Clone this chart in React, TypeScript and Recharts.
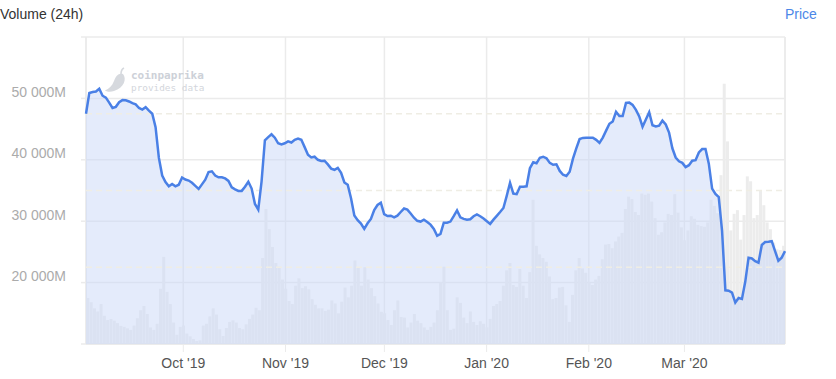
import {
  ComposedChart,
  Bar,
  Area,
  Line,
  XAxis,
  YAxis,
  CartesianGrid,
  ReferenceLine,
} from "recharts";

// daily closes, Sep 2 2019 .. Mar 31 2020 (USD)
const price = [
  10000, 10540, 10565, 10580, 10650, 10470, 10420, 10290, 10150, 10180,
  10300, 10355, 10350, 10320, 10275, 10245, 10150, 10110, 10170, 10080,
  10000, 9650, 8850, 8390, 8220, 8110, 8170, 8110, 8150, 8340,
  8285, 8260, 8200, 8120, 8040, 8160, 8280, 8480, 8500, 8390,
  8344, 8344, 8315, 8250, 8080, 8030, 7990, 7990, 8100, 8229,
  8050, 7650, 7500, 8240, 9310, 9390, 9464, 9377, 9230, 9200,
  9230, 9280, 9250, 9320, 9350, 9320, 9130, 8930, 8860, 8880,
  8800, 8770, 8777, 8680, 8570, 8540, 8590, 8460, 8210, 8150,
  7800, 7350, 7225, 7140, 7000, 7145, 7260, 7492, 7622, 7682,
  7385, 7335, 7343, 7300, 7345, 7440, 7530, 7500, 7400, 7290,
  7210, 7190, 7240, 7180, 7110, 7000, 6820, 6870, 7161, 7161,
  7190, 7330, 7480, 7300, 7260, 7240, 7250, 7330, 7375, 7330,
  7270, 7200, 7130, 7240, 7340, 7440, 7545, 7860, 8200, 7920,
  7905, 8099, 8099, 8110, 8580, 8734, 8709, 8855, 8880, 8840,
  8720, 8670, 8683, 8510, 8410, 8380, 8490, 8830, 9100, 9342,
  9370, 9377, 9377, 9377, 9320, 9240, 9380, 9560, 9740, 9800,
  10050, 9942, 9942, 10280, 10290, 10230, 10100, 9930, 9662, 9850,
  10040, 9700, 9670, 9688, 9820, 9720, 9510, 9100, 8860, 8760,
  8720, 8610, 8660, 8775, 8790, 8990, 9080, 9080, 8700, 8050,
  7910, 7830, 6950, 5400, 5390, 5340, 5080, 5200, 5175, 5620,
  6250, 6230, 6160, 6120, 6580, 6658, 6666, 6680, 6420, 6170,
  6250, 6420,
];

// 24h volume, millions USD
const volume = [
  17500, 16800, 15800, 15300, 16500, 14600, 13900, 14060, 13800, 13400,
  12950, 12800, 12550, 12300, 13000, 14200, 15500, 16200, 14900, 12700,
  12300, 13300, 19000, 24200, 18500, 16500, 13500, 11500, 12800, 13000,
  11700, 11250, 10800, 10500, 10600, 13000, 13300, 14500, 15800, 14800,
  12400, 11300, 12600, 13600, 13850, 13500, 12600, 12400, 13200, 14100,
  14800, 15900, 15500, 24000, 32000, 28700, 25800, 23200, 22600, 20500,
  19000, 17000, 16500, 19500, 20700, 19100, 19400, 18900, 17300, 16400,
  15800, 15800, 15400, 15600, 17100, 16600, 15000, 16900, 19200, 17600,
  19500, 23600, 22500, 19500, 22500, 20500, 19100, 17800, 16600, 15250,
  15000, 13900, 13100, 15500, 17100, 14400, 14300, 12700, 13500, 14900,
  13800, 13400, 12700, 12300, 12800, 13500, 15500, 20000, 22600, 15500,
  12300, 12500, 17600, 16700, 14300, 13400, 15300, 13600, 13100, 13700,
  13300, 12700, 14100, 16200, 16500, 17000, 19500, 22000, 23200, 19600,
  19300, 22200, 19500, 17500, 21700, 33500, 26000, 24600, 24000, 23400,
  21000, 17300, 17500, 19200, 19300, 16300, 13600, 18000, 22000, 24000,
  22300, 21600, 20000, 19600, 20500, 21100, 23800, 26200, 26300, 25600,
  26700, 27500, 28100, 32000, 34000, 33600, 31500, 31000, 34500, 34300,
  34500, 33200, 30500, 27800, 28200, 29800, 31200, 31000, 34400, 31400,
  29000, 26900, 28500, 30800, 30400, 29400, 29200, 29100, 29800, 33500,
  32500, 31300, 37500, 52400, 43000, 28500, 31200, 31800, 27000, 31000,
  37300, 36500, 30500, 31000, 35000, 32600, 29800, 28700, 26500, 25400,
  25300, 26000,
];

const monthTicks = ["2019-10-01", "2019-11-01", "2019-12-01", "2020-01-01", "2020-02-01", "2020-03-01"];
const monthLabels = ["Oct '19", "Nov '19", "Dec '19", "Jan '20", "Feb '20", "Mar '20"];
const volumeTicks = [10000, 20000, 30000, 40000, 50000, 60000];
const priceTicks = [6000, 8000, 10000];

const FONT = "'Liberation Sans', Arial, sans-serif";
const W = 836;
const H = 379;
const PLOT = { top: 37, left: 86, right: 51, bottom: 35 };

const dayKey = (i: number) => new Date(Date.UTC(2019, 8, 2 + i)).toISOString().slice(0, 10);

const data = price.map((p, i) => ({ date: dayKey(i), price: p, volume: volume[i] }));

const fmtVolume = (v: number) => String(v).replace(/\B(?=(\d{3})+(?!\d))/g, " ") + "M";

function VolumeTick(props: any) {
  const { x, y, payload } = props;
  if (payload.value <= 10000 || payload.value >= 60000) return <g />;
  return (
    <text x={x} y={y - 6.5} dy="0.355em" textAnchor="end" fill="#ababab" fontSize={14} fontFamily={FONT}>
      {fmtVolume(payload.value)}
    </text>
  );
}

function PriceTick(props: any) {
  const { x, y, payload } = props;
  return (
    <text x={x} y={y - 6.5} dy="0.355em" textAnchor="start" fill="#ababab" fontSize={14} fontFamily={FONT}>
      {payload.value / 1000}k
    </text>
  );
}

function MonthTick(props: any) {
  const { x, y, payload } = props;
  const label = monthLabels[monthTicks.indexOf(payload.value)];
  return (
    <text x={x} y={y} dy="0.71em" textAnchor="middle" fill="#555" fontSize={14} fontFamily={FONT}>
      {label}
    </text>
  );
}

const layer = { position: "absolute" as const, left: 0, top: 0 };

export default function App() {
  return (
    <div style={{ position: "absolute", left: 0, top: 0, width: W, height: H, background: "#fff", fontFamily: FONT }}>
      <div style={{ position: "absolute", left: 0, top: 6, fontSize: 14, lineHeight: "16px", color: "#333" }}>
        Volume (24h)
      </div>
      <div style={{ position: "absolute", left: 785, top: 6, fontSize: 14, lineHeight: "16px", color: "#4c87e8" }}>
        Price
      </div>

      {/* bottom layer: grid, axes, volume columns */}
      <div style={layer}>
        <ComposedChart
          width={W}
          height={H}
          data={data}
          margin={{ top: PLOT.top, right: 0, bottom: 0, left: 0 }}
          barCategoryGap="12%"
        >
          <CartesianGrid yAxisId="vol" stroke="#ebebeb" strokeWidth={1.5} />
          <XAxis
            dataKey="date"
            ticks={monthTicks}
            tick={<MonthTick />}
            height={PLOT.bottom}
            tickSize={8}
            tickMargin={6}
            interval={0}
            axisLine={{ stroke: "#ebebeb", strokeWidth: 2 }}
            tickLine={{ stroke: "#ebebeb" }}
          />
          <YAxis
            yAxisId="vol"
            orientation="left"
            width={PLOT.left}
            domain={[10000, 60000]}
            ticks={volumeTicks}
            interval={0}
            tick={<VolumeTick />}
            tickSize={5}
            tickMargin={15}
            axisLine={{ stroke: "#ebebeb", strokeWidth: 1.5 }}
            tickLine={{ stroke: "#ebebeb", strokeWidth: 1.5 }}
          />
          <YAxis
            yAxisId="price"
            orientation="right"
            width={PLOT.right}
            domain={[4000, 12000]}
            ticks={priceTicks}
            interval={0}
            tick={<PriceTick />}
            tickSize={5}
            tickMargin={14}
            axisLine={{ stroke: "#ebebeb", strokeWidth: 1.5 }}
            tickLine={{ stroke: "#ebebeb", strokeDasharray: "3 2" }}
          />
          <Bar yAxisId="vol" dataKey="volume" fill="#ececec" isAnimationActive={false} />
        </ComposedChart>
      </div>

      {/* watermark */}
      <svg width={W} height={H} style={layer}>
        <path
          d="M123 74 C127 79 124 88 114 91 C110 92.5 106 91.5 105 90.5 C109 89 112 86 114 81 C116 76 118 73 123 74 Z"
          fill="#d6d9de"
        />
        <path d="M121 74 C121 71 122 69 124 68" stroke="#d6d9de" strokeWidth={1.6} fill="none" />
        <text x={131} y={79} fontFamily="'DejaVu Sans Mono', monospace" fontWeight="bold" fontSize={11} fill="#cdd1d8">
          coinpaprika
        </text>
        <text x={131} y={90.5} fontFamily="'DejaVu Sans Mono', monospace" fontSize={9.4} fill="#d3d6dc">
          provides data
        </text>
      </svg>

      {/* top layer: price area, dashed price grid, price line */}
      <div style={layer}>
        <ComposedChart width={W} height={H} data={data} margin={PLOT}>
          <XAxis dataKey="date" hide />
          <YAxis yAxisId="price" hide domain={[4000, 12000]} />
          <Area
            yAxisId="price"
            dataKey="price"
            type="linear"
            stroke="none"
            fill="#c9d7f7"
            fillOpacity={0.5}
            isAnimationActive={false}
          />
          {priceTicks.map((t) => (
            <ReferenceLine key={t} yAxisId="price" y={t} stroke="#efede4" strokeWidth={1.5} strokeDasharray="6 4" />
          ))}
          <Line
            yAxisId="price"
            dataKey="price"
            type="linear"
            stroke="#4a80e6"
            strokeWidth={2.5}
            dot={false}
            isAnimationActive={false}
          />
        </ComposedChart>
      </div>
    </div>
  );
}
